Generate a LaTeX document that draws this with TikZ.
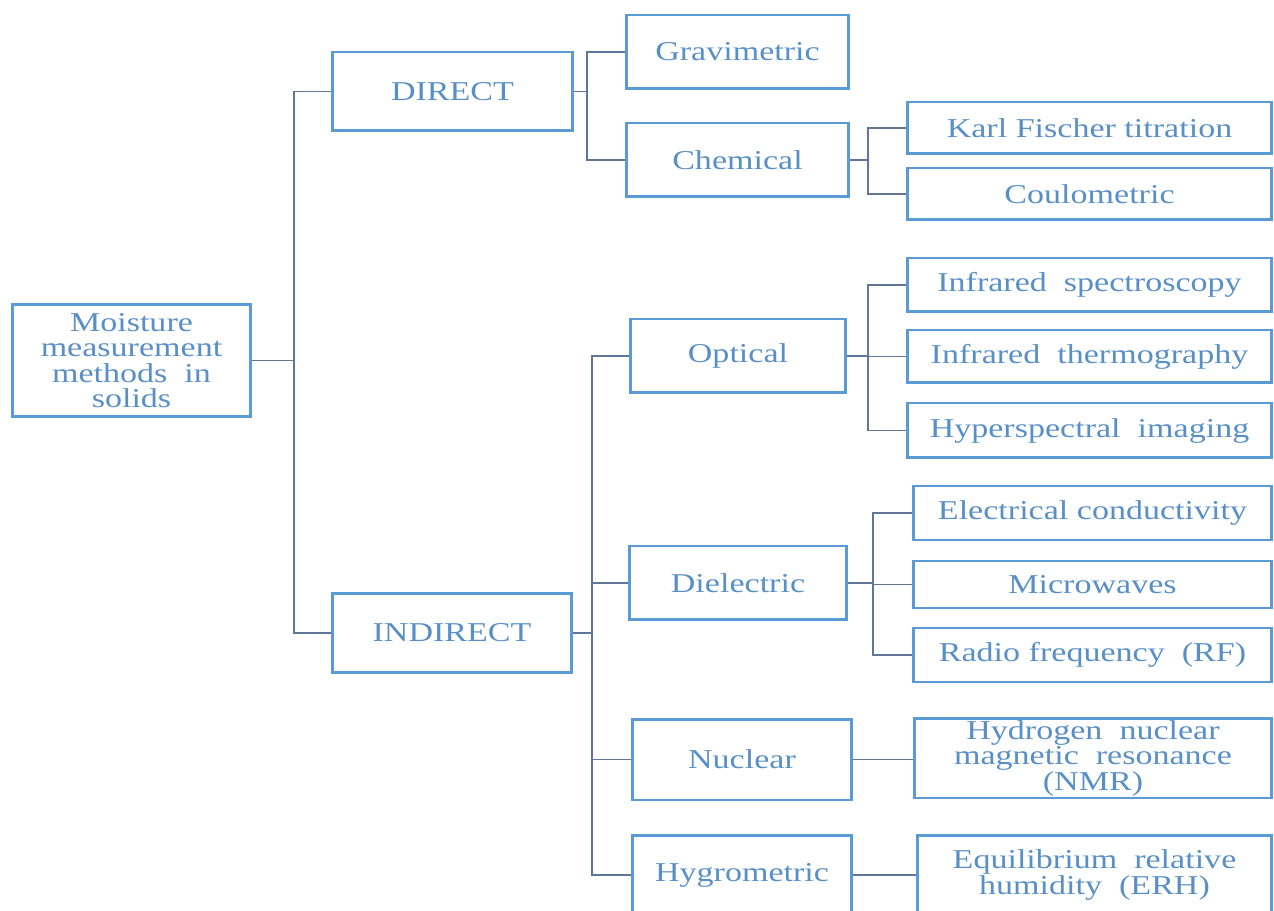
\documentclass[tikz,border=0pt]{standalone}
\usepackage{fontspec}
\setmainfont{Liberation Serif}[FakeStretch=1.25]
\usepackage{xcolor}

\definecolor{boxblue}{RGB}{91,155,213}
\definecolor{textblue}{RGB}{88,143,198}
\definecolor{linegray}{RGB}{96,118,150}

\begin{document}
\begin{tikzpicture}[x=0.02cm,y=-0.02cm,
  every node/.style={font=\fontsize{15.5}{14.5}\selectfont,text=textblue},
  box/.style={draw=boxblue,line width=1.7pt,rectangle,inner sep=0pt,align=center},
  link/.style={draw=linegray,line width=1.1pt}]
  \useasboundingbox (0,0) rectangle (1274,911);
  % wurzel
  \node[box,minimum width=4.78cm,minimum height=2.26cm] (root) at (131.5,360.5)
    {Moisture\\measurement\\methods\ \ in\\solids};
  % erste ebene
  \node[box,minimum width=4.82cm,minimum height=1.58cm] (direct) at (452.5,91.5) {DIRECT};
  \node[box,minimum width=4.80cm,minimum height=1.60cm] (indirect) at (452,633) {INDIRECT};
  % direkte methoden
  \node[box,minimum width=4.46cm,minimum height=1.48cm] (grav) at (737.5,52) {Gravimetric};
  \node[box,minimum width=4.46cm,minimum height=1.48cm] (chem) at (737.5,160) {Chemical};
  \node[box,minimum width=7.30cm,minimum height=1.04cm] (karl) at (1089.5,128) {Karl Fischer titration};
  \node[box,minimum width=7.30cm,minimum height=1.04cm] (coulo) at (1089.5,194) {Coulometric};
  % indirekte methoden
  \node[box,minimum width=4.32cm,minimum height=1.48cm] (optical) at (738,356) {Optical};
  \node[box,minimum width=4.36cm,minimum height=1.48cm] (diel) at (738,583) {Dielectric};
  \node[box,minimum width=4.40cm,minimum height=1.62cm] (nuclear) at (742,759.5) {Nuclear};
  \node[box,minimum width=4.40cm,minimum height=1.60cm] (hygro) at (742,875) {Hygrometric};
  % optisch
  \node[box,minimum width=7.30cm,minimum height=1.08cm] (irspec) at (1089.5,285) {Infrared\ \ spectroscopy};
  \node[box,minimum width=7.30cm,minimum height=1.06cm] (irtherm) at (1089.5,356.5) {Infrared\ \ thermography};
  \node[box,minimum width=7.30cm,minimum height=1.10cm] (hyper) at (1089.5,430.5) {Hyperspectral\ \ imaging};
  % dielektrisch
  \node[box,minimum width=7.18cm,minimum height=1.08cm] (elec) at (1092.5,513) {Electrical conductivity};
  \node[box,minimum width=7.18cm,minimum height=0.94cm] (micro) at (1092.5,584.5) {Microwaves};
  \node[box,minimum width=7.18cm,minimum height=1.08cm] (rf) at (1092.5,655) {Radio frequency\ \ (RF)};
  % nuklear und hygrometrisch
  \node[box,minimum width=7.16cm,minimum height=1.60cm] (nmr) at (1093,758)
    {Hydrogen\ \ nuclear\\magnetic\ \ resonance\\(NMR)};
  \node[box,minimum width=7.10cm,minimum height=1.60cm] (erh) at (1094.5,875)
    {Equilibrium\ \ relative\\humidity\ \ (ERH)};

  % verbindungen
  \coordinate (rootj) at (294,360.5);
  \draw[link] (root.east) -- (rootj);
  \foreach \c in {direct,indirect} \draw[link] (rootj) |- (\c.west);
  \coordinate (dirj) at (587,91.5);
  \draw[link] (direct.east) -- (dirj);
  \foreach \c in {grav,chem} \draw[link] (dirj) |- (\c.west);
  \coordinate (chemj) at (868,160);
  \draw[link] (chem.east) -- (chemj);
  \foreach \c in {karl,coulo} \draw[link] (chemj) |- (\c.west);
  \coordinate (indj) at (592,633);
  \draw[link] (indirect.east) -- (indj);
  \foreach \c in {optical,diel,nuclear,hygro} \draw[link] (indj) |- (\c.west);
  \coordinate (optj) at (868,356);
  \draw[link] (optical.east) -- (optj);
  \foreach \c in {irspec,irtherm,hyper} \draw[link] (optj) |- (\c.west);
  \coordinate (dielj) at (873,583);
  \draw[link] (diel.east) -- (dielj);
  \foreach \c in {elec,micro,rf} \draw[link] (dielj) |- (\c.west);
  \draw[link] (nuclear.east) -- (nuclear.east -| nmr.west);
  \draw[link] (hygro.east) -- (hygro.east -| erh.west);
\end{tikzpicture}
\end{document}
